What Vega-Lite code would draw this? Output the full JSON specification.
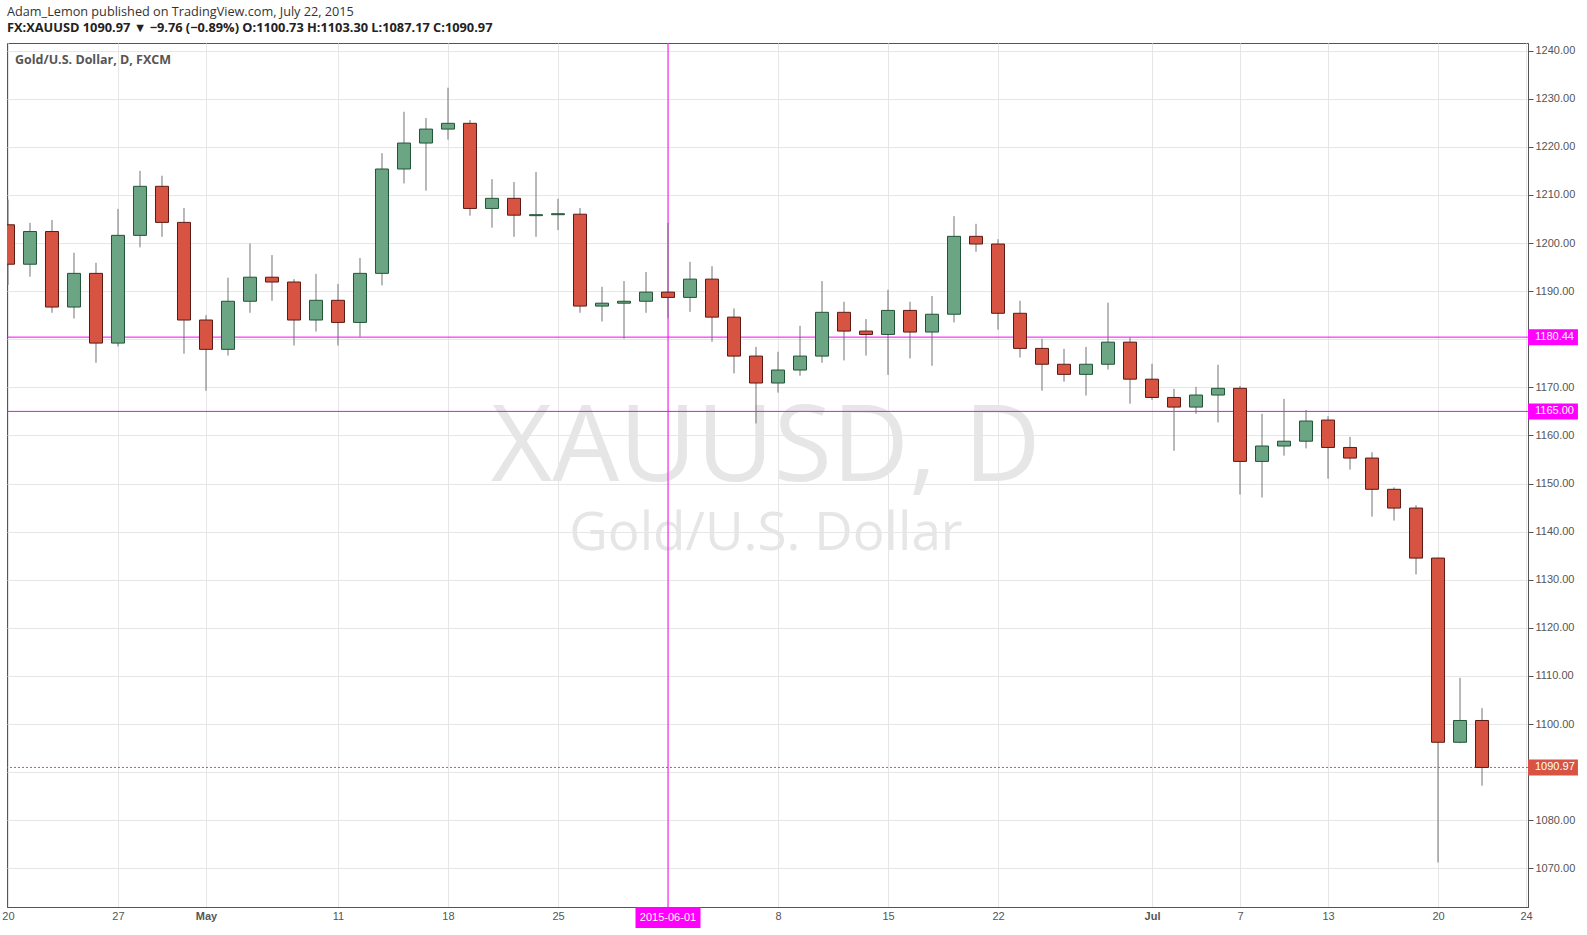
{
  "$schema": "https://vega.github.io/schema/vega-lite/v6.json",
  "width": 1521,
  "height": 864,
  "autosize": "none",
  "padding": {"left": 7, "top": 43, "right": 59, "bottom": 28},
  "background": "#ffffff",
  "title": {
    "text": "Adam_Lemon published on TradingView.com, July 22, 2015",
    "subtitle": "FX:XAUUSD 1090.97 ▼ −9.76 (−0.89%) O:1100.73 H:1103.30 L:1087.17 C:1090.97",
    "anchor": "start",
    "frame": "group",
    "offset": 8,
    "font": "Open Sans",
    "fontSize": 12.7,
    "fontWeight": "normal",
    "color": "#333333",
    "subtitleFont": "Open Sans",
    "subtitleFontSize": 12.8,
    "subtitleFontWeight": "bold",
    "subtitleColor": "#222222",
    "subtitlePadding": 3
  },
  "config": {
    "view": {"stroke": "#555555", "strokeWidth": 1},
    "axis": {
      "labelFont": "Liberation Sans",
      "labelFontSize": 11,
      "labelColor": "#555555",
      "domainColor": "#555555",
      "tickColor": "#555555",
      "gridColor": "#e6e6e6",
      "gridOpacity": 1,
      "title": null,
      "zindex": 0
    }
  },
  "datasets": {
    "ohlc": [
      {"i": 0, "date": "2015-04-20", "open": 1203.8, "high": 1209.0, "low": 1191.3, "close": 1195.6},
      {"i": 1, "date": "2015-04-21", "open": 1195.6, "high": 1204.2, "low": 1193.0, "close": 1202.4},
      {"i": 2, "date": "2015-04-22", "open": 1202.4, "high": 1204.8, "low": 1185.5, "close": 1186.7},
      {"i": 3, "date": "2015-04-23", "open": 1186.7, "high": 1198.0, "low": 1184.3, "close": 1193.7},
      {"i": 4, "date": "2015-04-24", "open": 1193.7, "high": 1195.9, "low": 1175.1, "close": 1179.2},
      {"i": 5, "date": "2015-04-27", "open": 1179.2, "high": 1207.1, "low": 1178.5, "close": 1201.6},
      {"i": 6, "date": "2015-04-28", "open": 1201.6, "high": 1215.0, "low": 1199.1, "close": 1211.8},
      {"i": 7, "date": "2015-04-29", "open": 1211.8, "high": 1214.0, "low": 1201.3, "close": 1204.3},
      {"i": 8, "date": "2015-04-30", "open": 1204.3, "high": 1207.3, "low": 1177.0, "close": 1184.0},
      {"i": 9, "date": "2015-05-01", "open": 1184.0, "high": 1185.0, "low": 1169.3, "close": 1177.9},
      {"i": 10, "date": "2015-05-04", "open": 1177.9, "high": 1192.8, "low": 1176.6, "close": 1187.9},
      {"i": 11, "date": "2015-05-05", "open": 1187.9, "high": 1199.9, "low": 1185.5, "close": 1192.9},
      {"i": 12, "date": "2015-05-06", "open": 1192.9, "high": 1197.5, "low": 1188.0, "close": 1191.9},
      {"i": 13, "date": "2015-05-07", "open": 1191.9, "high": 1192.5, "low": 1178.7, "close": 1184.0},
      {"i": 14, "date": "2015-05-08", "open": 1184.0, "high": 1193.6, "low": 1181.6, "close": 1188.1},
      {"i": 15, "date": "2015-05-11", "open": 1188.1, "high": 1191.5, "low": 1178.7, "close": 1183.5},
      {"i": 16, "date": "2015-05-12", "open": 1183.5, "high": 1196.9, "low": 1180.5, "close": 1193.7},
      {"i": 17, "date": "2015-05-13", "open": 1193.7, "high": 1218.7, "low": 1191.2, "close": 1215.4},
      {"i": 18, "date": "2015-05-14", "open": 1215.4, "high": 1227.3, "low": 1212.4, "close": 1220.8},
      {"i": 19, "date": "2015-05-15", "open": 1220.8, "high": 1226.0, "low": 1210.9, "close": 1223.7},
      {"i": 20, "date": "2015-05-18", "open": 1223.7, "high": 1232.3, "low": 1221.5, "close": 1224.9},
      {"i": 21, "date": "2015-05-19", "open": 1224.9, "high": 1225.6, "low": 1205.7, "close": 1207.2},
      {"i": 22, "date": "2015-05-20", "open": 1207.2, "high": 1213.3, "low": 1203.2, "close": 1209.3},
      {"i": 23, "date": "2015-05-21", "open": 1209.3, "high": 1212.7, "low": 1201.3, "close": 1205.8},
      {"i": 24, "date": "2015-05-22", "open": 1205.7, "high": 1214.8, "low": 1201.3, "close": 1205.9},
      {"i": 25, "date": "2015-05-25", "open": 1205.9, "high": 1209.2, "low": 1202.7, "close": 1206.1},
      {"i": 26, "date": "2015-05-26", "open": 1206.0, "high": 1207.3, "low": 1185.5, "close": 1186.9},
      {"i": 27, "date": "2015-05-27", "open": 1186.9, "high": 1190.9, "low": 1183.7, "close": 1187.5},
      {"i": 28, "date": "2015-05-28", "open": 1187.5, "high": 1192.1, "low": 1180.1, "close": 1187.9},
      {"i": 29, "date": "2015-05-29", "open": 1187.9, "high": 1194.0, "low": 1185.5, "close": 1189.8},
      {"i": 30, "date": "2015-06-01", "open": 1189.8, "high": 1204.2, "low": 1184.4, "close": 1188.7},
      {"i": 31, "date": "2015-06-02", "open": 1188.7, "high": 1196.1, "low": 1185.7, "close": 1192.5},
      {"i": 32, "date": "2015-06-03", "open": 1192.5, "high": 1195.2, "low": 1179.5, "close": 1184.6},
      {"i": 33, "date": "2015-06-04", "open": 1184.6, "high": 1186.4, "low": 1172.9, "close": 1176.5},
      {"i": 34, "date": "2015-06-05", "open": 1176.5, "high": 1178.4, "low": 1162.5, "close": 1170.9},
      {"i": 35, "date": "2015-06-08", "open": 1170.9, "high": 1177.4, "low": 1168.9, "close": 1173.6},
      {"i": 36, "date": "2015-06-09", "open": 1173.6, "high": 1182.8, "low": 1172.4, "close": 1176.5},
      {"i": 37, "date": "2015-06-10", "open": 1176.5, "high": 1192.1, "low": 1175.1, "close": 1185.6},
      {"i": 38, "date": "2015-06-11", "open": 1185.6, "high": 1187.8, "low": 1175.6, "close": 1181.7},
      {"i": 39, "date": "2015-06-12", "open": 1181.7, "high": 1184.2, "low": 1176.6, "close": 1181.0},
      {"i": 40, "date": "2015-06-15", "open": 1181.0, "high": 1190.3, "low": 1172.6, "close": 1186.0},
      {"i": 41, "date": "2015-06-16", "open": 1186.0, "high": 1187.8, "low": 1176.0, "close": 1181.5},
      {"i": 42, "date": "2015-06-17", "open": 1181.5, "high": 1189.0, "low": 1174.5, "close": 1185.2},
      {"i": 43, "date": "2015-06-18", "open": 1185.2, "high": 1205.6, "low": 1183.5, "close": 1201.4},
      {"i": 44, "date": "2015-06-19", "open": 1201.4, "high": 1204.0, "low": 1198.2, "close": 1199.8},
      {"i": 45, "date": "2015-06-22", "open": 1199.8, "high": 1200.8, "low": 1182.0, "close": 1185.4},
      {"i": 46, "date": "2015-06-23", "open": 1185.4, "high": 1188.0, "low": 1176.2, "close": 1178.1},
      {"i": 47, "date": "2015-06-24", "open": 1178.1, "high": 1180.1, "low": 1169.3, "close": 1174.8},
      {"i": 48, "date": "2015-06-25", "open": 1174.8, "high": 1178.0, "low": 1171.2, "close": 1172.7},
      {"i": 49, "date": "2015-06-26", "open": 1172.7, "high": 1178.4, "low": 1168.3, "close": 1174.8},
      {"i": 50, "date": "2015-06-29", "open": 1174.8, "high": 1187.6, "low": 1173.7, "close": 1179.4},
      {"i": 51, "date": "2015-06-30", "open": 1179.4, "high": 1180.4, "low": 1166.6, "close": 1171.7},
      {"i": 52, "date": "2015-07-01", "open": 1171.7, "high": 1174.9, "low": 1167.4, "close": 1167.9},
      {"i": 53, "date": "2015-07-02", "open": 1167.9, "high": 1169.7, "low": 1156.8, "close": 1165.9},
      {"i": 54, "date": "2015-07-03", "open": 1165.9, "high": 1170.1, "low": 1164.5, "close": 1168.4},
      {"i": 55, "date": "2015-07-06", "open": 1168.4, "high": 1174.7, "low": 1162.7, "close": 1169.8},
      {"i": 56, "date": "2015-07-07", "open": 1169.8, "high": 1170.3, "low": 1147.7, "close": 1154.6},
      {"i": 57, "date": "2015-07-08", "open": 1154.6, "high": 1164.5, "low": 1147.1, "close": 1157.8},
      {"i": 58, "date": "2015-07-09", "open": 1157.8, "high": 1167.6, "low": 1155.8, "close": 1158.8},
      {"i": 59, "date": "2015-07-10", "open": 1158.8, "high": 1165.3, "low": 1157.3, "close": 1163.0},
      {"i": 60, "date": "2015-07-13", "open": 1163.2, "high": 1164.0, "low": 1151.0, "close": 1157.5},
      {"i": 61, "date": "2015-07-14", "open": 1157.5, "high": 1159.7, "low": 1152.9, "close": 1155.3},
      {"i": 62, "date": "2015-07-15", "open": 1155.3, "high": 1156.5, "low": 1143.1, "close": 1148.8},
      {"i": 63, "date": "2015-07-16", "open": 1148.8, "high": 1149.2, "low": 1142.3, "close": 1144.9},
      {"i": 64, "date": "2015-07-17", "open": 1144.9, "high": 1145.5, "low": 1131.1, "close": 1134.5},
      {"i": 65, "date": "2015-07-20", "open": 1134.5, "high": 1134.6, "low": 1071.2, "close": 1096.2},
      {"i": 66, "date": "2015-07-21", "open": 1096.2, "high": 1109.6, "low": 1096.0, "close": 1100.73},
      {"i": 67, "date": "2015-07-22", "open": 1100.73, "high": 1103.3, "low": 1087.17, "close": 1090.97}
    ],
    "levels": [
      {"level": 1180.44, "kind": "line"},
      {"level": 1165.0, "kind": "line"},
      {"level": 1090.97, "kind": "last"}
    ],
    "watermark": [
      {"text": "XAUUSD, D"}
    ]
  },
  "layer": [
    {
      "data": {"name": "watermark"},
      "mark": {"type": "text", "font": "Open Sans", "fontSize": 106, "color": "#e6e6e6", "align": "center", "baseline": "alphabetic"},
      "encoding": {
        "x": {"datum": 34.45, "type": "quantitative", "scale": {"domain": [-0.045, 69.09], "nice": false, "zero": false, "padding": 0},
          "axis": {"orient": "bottom", "values": [0, 5, 9, 15, 20, 25, 30, 35, 40, 45, 52, 56, 60, 65, 69],
            "labelExpr": "datum.value==0?'20':datum.value==5?'27':datum.value==9?'May':datum.value==15?'11':datum.value==20?'18':datum.value==25?'25':datum.value==30?'':datum.value==35?'8':datum.value==40?'15':datum.value==45?'22':datum.value==52?'Jul':datum.value==56?'7':datum.value==60?'13':datum.value==65?'20':datum.value==69?'24':''",
            "labelFontWeight": {"condition": {"test": "datum.value==9 || datum.value==52", "value": "bold"}, "value": "normal"},
            "ticks": false, "grid": true, "labelFlush": false, "labelOverlap": false, "labelBound": false, "labelPadding": 3}},
        "y": {"datum": 1150.54, "type": "quantitative", "scale": {"domain": [1061.95, 1241.6], "nice": false, "zero": false, "padding": 0},
          "axis": {"orient": "right", "values": [1070, 1080, 1090, 1100, 1110, 1120, 1130, 1140, 1150, 1160, 1170, 1180, 1190, 1200, 1210, 1220, 1230, 1240],
            "labelExpr": "datum.value==1180 || datum.value==1090 ? '' : format(datum.value, '.2f')",
            "tickSize": 5, "labelPadding": 2, "grid": true, "labelOverlap": false}},
        "text": {"field": "text"}
      }
    },
    {
      "data": {"values": [{"text": "Gold/U.S. Dollar"}]},
      "mark": {"type": "text", "font": "Open Sans", "fontSize": 53, "color": "#e6e6e6", "align": "center", "baseline": "alphabetic"},
      "encoding": {
        "x": {"datum": 34.45, "type": "quantitative"},
        "y": {"datum": 1136.27, "type": "quantitative"},
        "text": {"field": "text"}
      }
    },
    {
      "data": {"values": [{"text": "Gold/U.S. Dollar, D, FXCM"}]},
      "mark": {"type": "text", "font": "Open Sans", "fontSize": 12.5, "fontWeight": "bold", "color": "#555555", "align": "left", "baseline": "middle", "dx": 7},
      "encoding": {
        "x": {"datum": 0, "type": "quantitative"},
        "y": {"datum": 1238.1, "type": "quantitative"},
        "text": {"field": "text"}
      }
    },
    {
      "data": {"name": "levels"},
      "transform": [{"filter": "datum.kind == 'line'"}],
      "mark": {"type": "rule", "color": "#ff00ff", "strokeWidth": 1},
      "encoding": {"y": {"field": "level", "type": "quantitative"}}
    },
    {
      "data": {"name": "levels"},
      "transform": [{"filter": "datum.kind == 'last'"}],
      "mark": {"type": "rule", "color": "#d75442", "strokeWidth": 1, "strokeDash": [2, 2]},
      "encoding": {"y": {"field": "level", "type": "quantitative"}}
    },
    {
      "data": {"values": [{"date": "2015-06-01"}]},
      "mark": {"type": "rule", "color": "#ff00ff", "strokeWidth": 1},
      "encoding": {"x": {"datum": 30, "type": "quantitative"}}
    },
    {
      "data": {"name": "ohlc"},
      "mark": {"type": "rule", "color": "#737375", "strokeWidth": 1, "clip": true},
      "encoding": {
        "x": {"field": "i", "type": "quantitative"},
        "y": {"field": "low", "type": "quantitative"},
        "y2": {"field": "high"}
      }
    },
    {
      "data": {"name": "ohlc"},
      "mark": {"type": "bar", "width": 13, "strokeWidth": 1, "clip": true, "orient": "vertical"},
      "encoding": {
        "x": {"field": "i", "type": "quantitative"},
        "y": {"field": "open", "type": "quantitative"},
        "y2": {"field": "close"},
        "fill": {"condition": {"test": "datum.close >= datum.open", "value": "#6ba583"}, "value": "#d75442"},
        "stroke": {"condition": {"test": "datum.close >= datum.open", "value": "#225437"}, "value": "#5b1a13"}
      }
    },
    {
      "data": {"name": "levels"},
      "mark": {"type": "bar", "orient": "horizontal", "size": 16, "clip": false},
      "encoding": {
        "x": {"datum": 69.09, "type": "quantitative"},
        "x2": {"datum": 71.36},
        "y": {"field": "level", "type": "quantitative"},
        "fill": {"condition": {"test": "datum.kind == 'last'", "value": "#d75442"}, "value": "#ff00ff"}
      }
    },
    {
      "data": {"name": "levels"},
      "mark": {"type": "text", "font": "Liberation Sans", "fontSize": 11, "color": "#ffffff", "align": "left", "baseline": "middle", "dx": 7},
      "encoding": {
        "x": {"datum": 69.09, "type": "quantitative"},
        "y": {"field": "level", "type": "quantitative"},
        "text": {"field": "level", "type": "quantitative", "format": ".2f"}
      }
    },
    {
      "data": {"values": [{"date": "2015-06-01"}]},
      "mark": {"type": "bar", "width": 65, "color": "#ff00ff", "clip": false, "orient": "vertical"},
      "encoding": {
        "x": {"datum": 30, "type": "quantitative"},
        "y": {"datum": 1061.95, "type": "quantitative"},
        "y2": {"datum": 1057.6}
      }
    },
    {
      "data": {"values": [{"date": "2015-06-01"}]},
      "mark": {"type": "text", "font": "Liberation Sans", "fontSize": 11, "color": "#ffffff", "align": "center", "baseline": "middle"},
      "encoding": {
        "x": {"datum": 30, "type": "quantitative"},
        "y": {"datum": 1059.6, "type": "quantitative"},
        "text": {"field": "date"}
      }
    }
  ]
}
